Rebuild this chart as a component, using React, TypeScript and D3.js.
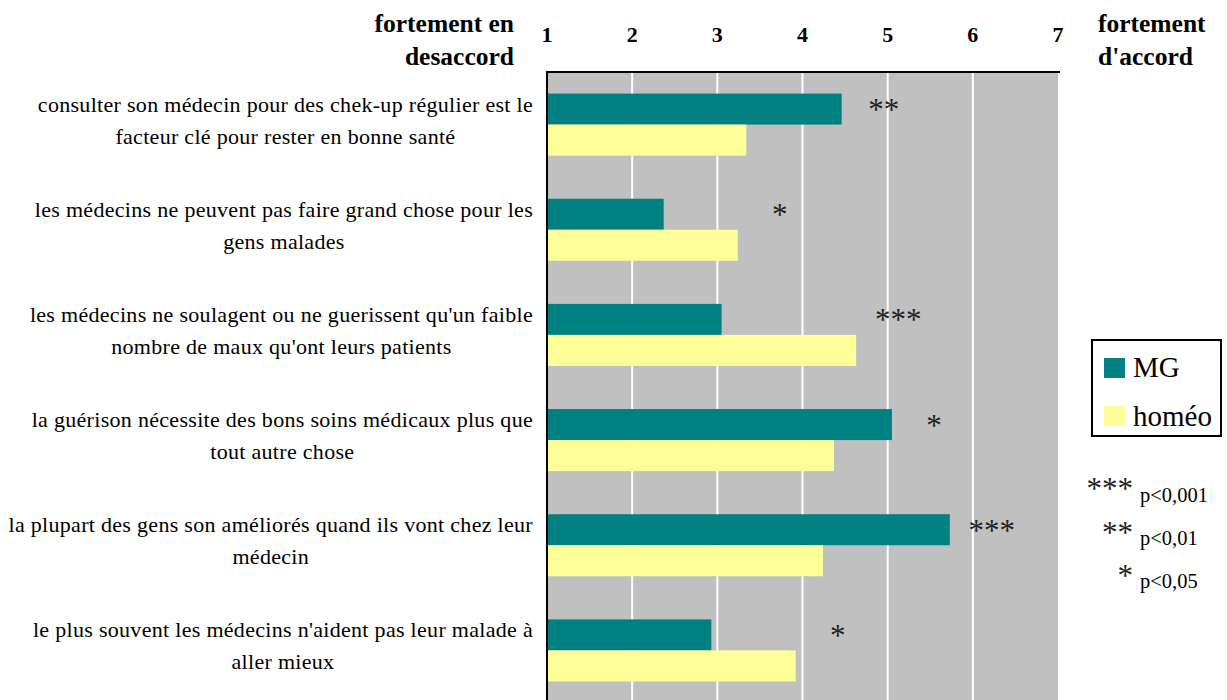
import React, { useEffect, useRef } from 'react';
import * as d3 from 'd3';

const categories = [
  ['consulter son médecin pour des chek-up régulier est le', 'facteur clé pour rester en bonne santé'],
  ['les médecins ne peuvent pas faire grand chose pour les', 'gens malades'],
  ['les médecins ne soulagent ou ne guerissent qu\'un faible', 'nombre de maux qu\'ont leurs patients'],
  ['la guérison nécessite des bons soins médicaux plus que', 'tout autre chose'],
  ['la plupart des gens son améliorés quand ils vont chez leur', 'médecin'],
  ['le plus souvent les médecins n\'aident pas leur malade à', 'aller mieux'],
];
const mgValues = [4.46, 2.37, 3.05, 5.05, 5.73, 2.93];
const homeoValues = [3.34, 3.24, 4.63, 4.37, 4.24, 3.92];
const significance = ['**', '*', '***', '*', '***', '*'];
const seriesNames = ['MG', 'homéo'];
const ticks = [1, 2, 3, 4, 5, 6, 7];
const sigLegend = [['***', 'p<0,001'], ['**', 'p<0,01'], ['*', 'p<0,05']];

const serif = '"Liberation Serif", "Times New Roman", serif';
const TEAL = '#008080';
const YELLOW = '#ffff99';

export default function App() {
  const svgRef = useRef<SVGSVGElement>(null);

  useEffect(() => {
    if (!svgRef.current) return;
    const svg = d3.select(svgRef.current);
    svg.selectAll('*').remove();

    const left = 547, right = 1058, top = 72, bottom = 703;
    const x = d3.scaleLinear().domain([1, 7]).range([left, right]);
    const y = d3.scaleBand<number>().domain(d3.range(categories.length)).range([top, bottom])
      .paddingInner(0.41).paddingOuter(0.205);
    const ySub = d3.scaleBand<string>().domain(seriesNames).range([0, y.bandwidth()]);
    const colors = d3.scaleOrdinal<string, string>().domain(seriesNames).range([TEAL, YELLOW]);

    // plot background
    svg.append('rect').attr('x', left).attr('y', top).attr('width', right - left).attr('height', bottom - top).attr('fill', '#c0c0c0');

    // gridlines
    svg.selectAll('.grid').data(ticks.slice(1, -1)).enter().append('line')
      .attr('x1', d => x(d)).attr('x2', d => x(d)).attr('y1', top).attr('y2', bottom)
      .attr('stroke', '#fff').attr('stroke-width', 2);

    // bars
    const groups = svg.selectAll('.grp').data(categories).enter().append('g')
      .attr('transform', (_, i) => `translate(0,${y(i)})`);
    groups.append('rect')
      .attr('x', x(1)).attr('y', ySub('MG')!)
      .attr('width', (_, i) => x(mgValues[i]) - x(1)).attr('height', ySub.bandwidth())
      .attr('fill', colors('MG'));
    groups.append('rect')
      .attr('x', x(1)).attr('y', ySub('homéo')!)
      .attr('width', (_, i) => x(homeoValues[i]) - x(1)).attr('height', ySub.bandwidth())
      .attr('fill', colors('homéo'));

    // significance stars
    groups.append('text')
      .attr('x', (_, i) => x(Math.max(mgValues[i], homeoValues[i])) + 42)
      .attr('y', ySub('MG')! + ySub.bandwidth() / 2 + 11)
      .attr('text-anchor', 'middle').attr('font-family', serif).attr('font-size', 31)
      .attr('fill', '#222')
      .text((_, i) => significance[i]);

    // axes lines
    svg.append('line').attr('x1', left).attr('x2', right + 2).attr('y1', top).attr('y2', top).attr('stroke', '#000').attr('stroke-width', 2);
    svg.append('line').attr('x1', left).attr('x2', left).attr('y1', top - 1).attr('y2', bottom).attr('stroke', '#000').attr('stroke-width', 2);

    // tick labels
    svg.selectAll('.tick').data(ticks).enter().append('text')
      .attr('x', d => x(d)).attr('y', 42).attr('text-anchor', 'middle')
      .attr('font-family', serif).attr('font-weight', 'bold').attr('font-size', 22)
      .text(d => d);

    // axis end captions
    const cap = (tx: number, ty: number, anchor: string, s: string) =>
      svg.append('text').attr('x', tx).attr('y', ty).attr('text-anchor', anchor)
        .attr('font-family', serif).attr('font-weight', 'bold').attr('font-size', 25.5).text(s);
    cap(514, 32, 'end', 'fortement en');
    cap(514, 65, 'end', 'desaccord');
    cap(1098, 32, 'start', 'fortement');
    cap(1098, 65, 'start', "d'accord");

    // category labels
    const labelCenter = 286, labelRight = 533;
    categories.forEach((lines, i) => {
      const cy = y(i)! + y.bandwidth() / 2;
      const texts = lines.map((s, j) =>
        svg.append('text').attr('y', cy - 13 + j * 32).attr('text-anchor', 'middle')
          .attr('font-family', serif).attr('font-size', 22).attr('letter-spacing', 0.3)
          .attr('fill', '#000').text(s));
      const maxW = d3.max(texts, t => (t.node() as SVGTextElement).getComputedTextLength()) || 0;
      const shift = Math.min(0, labelRight - (labelCenter + maxW / 2));
      texts.forEach(t => t.attr('x', labelCenter + shift));
    });

    // legend
    const lg = svg.append('g');
    lg.append('rect').attr('x', 1092).attr('y', 340).attr('width', 129).attr('height', 96)
      .attr('fill', '#fff').attr('stroke', '#000').attr('stroke-width', 2);
    seriesNames.forEach((s, i) => {
      lg.append('rect').attr('x', 1104).attr('y', 358 + i * 48).attr('width', 21).attr('height', 20).attr('fill', colors(s));
      lg.append('text').attr('x', 1133).attr('y', 377 + i * 49).attr('font-family', serif).attr('font-size', 29).text(s);
    });

    // significance legend
    sigLegend.forEach(([stars, p], i) => {
      svg.append('text').attr('x', 1133).attr('y', 499 + i * 43.5).attr('text-anchor', 'end')
        .attr('font-family', serif).attr('font-size', 31).attr('fill', '#222').text(stars);
      svg.append('text').attr('x', 1140).attr('y', 502 + i * 43)
        .attr('font-family', serif).attr('font-size', 20.5).text(p);
    });
  }, []);

  return (
    <svg ref={svgRef} width={1227} height={700} viewBox="0 0 1227 700"
      style={{ position: 'absolute', left: 0, top: 0, background: '#fff' }} />
  );
}
